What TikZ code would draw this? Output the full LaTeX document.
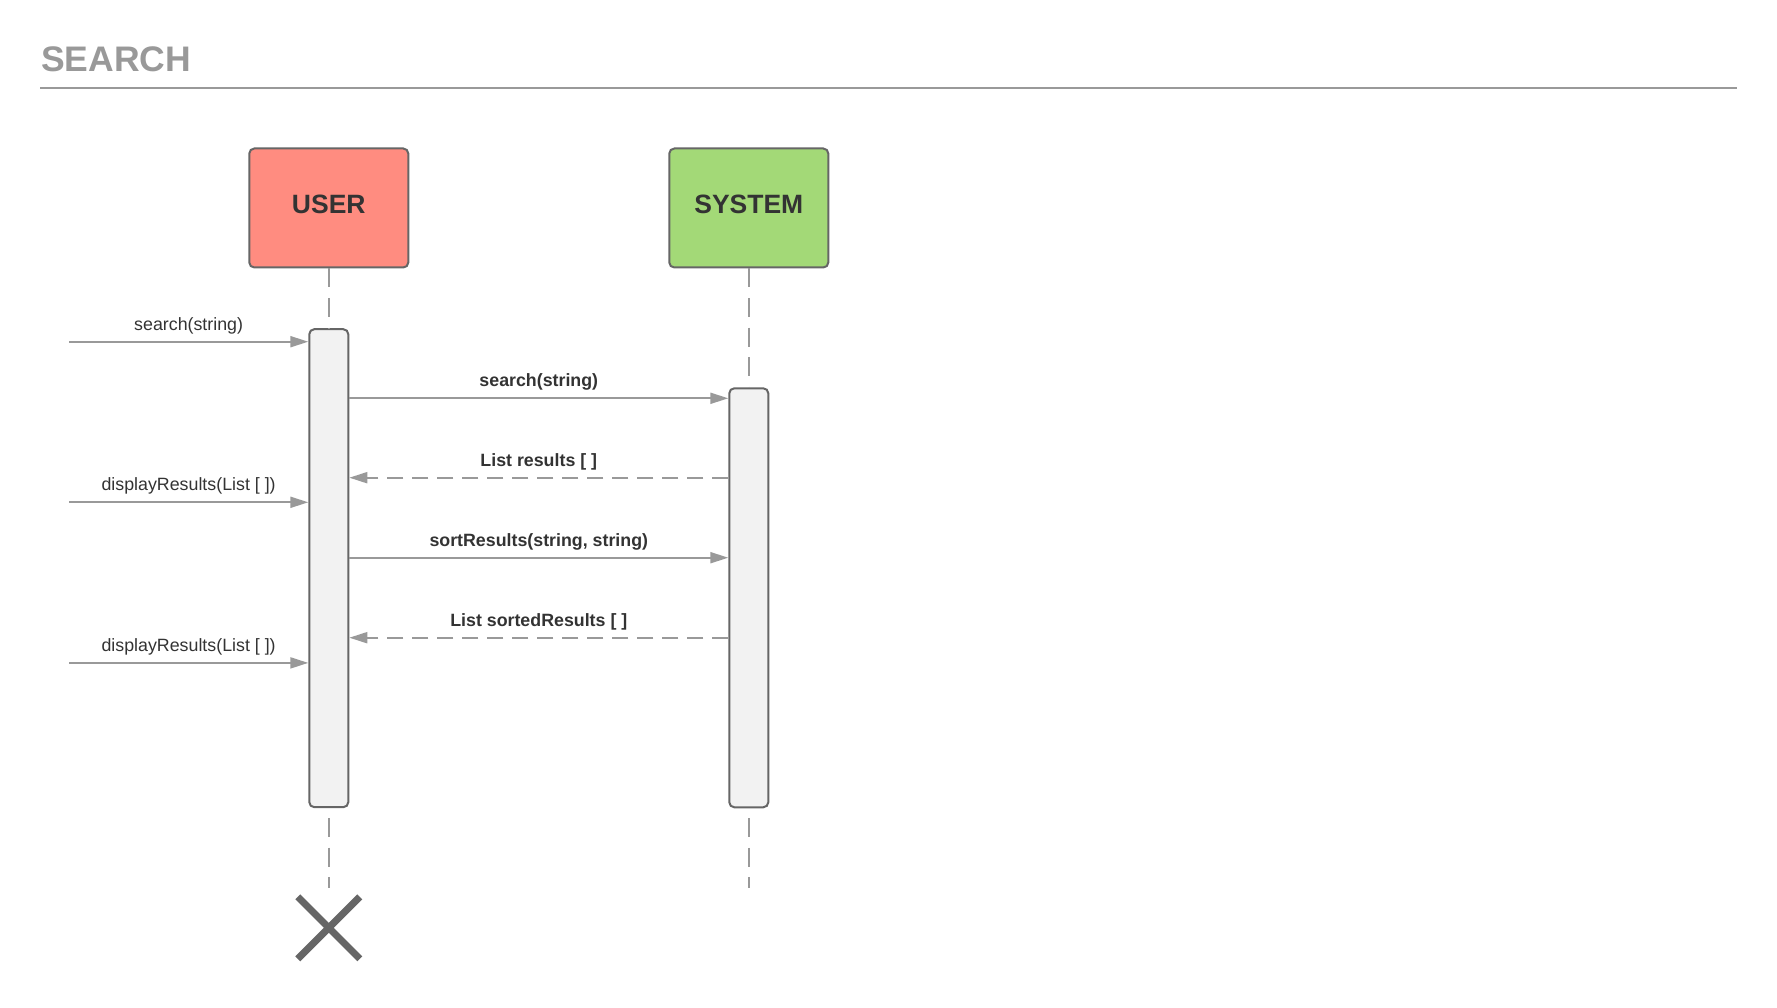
\documentclass[tikz,border=0pt]{standalone}
\usepackage{fontspec}
\setmainfont{Liberation Sans}
\usepackage{xcolor}
\usetikzlibrary{positioning,arrows.meta}
\definecolor{usercol}{HTML}{FF8C80}
\definecolor{systemcol}{HTML}{A3D977}
\definecolor{linegray}{HTML}{999999}
\definecolor{edgegray}{HTML}{666666}
\definecolor{textgray}{HTML}{333333}
\definecolor{barfill}{HTML}{F2F2F2}

\begin{document}
\begin{tikzpicture}[x=1pt, y=-1pt,
    actor/.style={draw=edgegray, line width=2pt, rounded corners=5pt, minimum width=159pt, minimum height=119pt, inner sep=0pt, text depth=7pt, text=textgray, font=\fontsize{26.5}{30}\selectfont\bfseries},
    bar/.style={draw=edgegray, line width=2pt, fill=barfill, rounded corners=5pt, minimum width=39pt, inner sep=0pt},
    lifeline/.style={linegray, line width=2pt, dash pattern=on 19pt off 10.5pt},
    msg/.style={linegray, line width=2pt, -{Triangle[length=18pt, width=11pt]}},
    reply/.style={msg, dash pattern=on 16pt off 9pt},
    lbl/.style={anchor=base, yshift=11.5pt, inner sep=0pt, text=textgray, font=\fontsize{17.8}{20}\selectfont},
    lblb/.style={lbl, font=\fontsize{17.8}{20}\selectfont\bfseries}]
\useasboundingbox (0,0) rectangle (1777,1008);

\node[anchor=west, inner sep=0pt, text=linegray, font=\fontsize{35.5}{40}\selectfont\bfseries] (title) at (41,59) {SEARCH};
\draw[linegray, line width=2pt] (40,88) -- (1737,88);

\node[actor, fill=usercol] (user_box) at (328.8,208) {USER};
\node[actor, fill=systemcol] (system_box) at (748.8,208) {SYSTEM};

\node[bar, minimum height=478pt] (user_bar) at (328.8,568.2) {};
\node[bar, minimum height=419pt] (system_bar) at (748.8,597.8) {};

\coordinate (user_end) at (328.8,888);
\coordinate (system_end) at (748.8,888);
\draw[lifeline] (user_box.south) -- (user_bar.north);
\draw[lifeline] (system_box.south) -- (system_bar.north);
\draw[lifeline] ([yshift=-10pt]user_bar.south) -- (user_end);
\draw[lifeline] ([yshift=-10pt]system_bar.south) -- (system_end);

\coordinate (in_1) at (69,341.7);
\coordinate (in_2) at (69,502.3);
\coordinate (in_3) at (69,662.9);

\draw[msg] (in_1) -- (in_1 -| user_bar.west)
    node[lbl, midway] {search(string)};
\draw[msg] (user_bar.east |- 0,398.3) -- (system_bar.west |- 0,398.3)
    node[lblb, midway] {search(string)};
\draw[reply] (system_bar.west |- 0,477.7) -- (user_bar.east |- 0,477.7)
    node[lblb, midway] {List results [ ]};
\draw[msg] (in_2) -- (in_2 -| user_bar.west)
    node[lbl, midway] {displayResults(List [ ])};
\draw[msg] (user_bar.east |- 0,557.7) -- (system_bar.west |- 0,557.7)
    node[lblb, midway] {sortResults(string, string)};
\draw[reply] (system_bar.west |- 0,637.7) -- (user_bar.east |- 0,637.7)
    node[lblb, midway] {List sortedResults [ ]};
\draw[msg] (in_3) -- (in_3 -| user_bar.west)
    node[lbl, midway] {displayResults(List [ ])};

\coordinate (user_kill) at (328.8,927.8);
\draw[edgegray, line width=7pt] (user_kill) +(-31,-31) -- +(31,31);
\draw[edgegray, line width=7pt] (user_kill) +(31,-31) -- +(-31,31);

\end{tikzpicture}
\end{document}
